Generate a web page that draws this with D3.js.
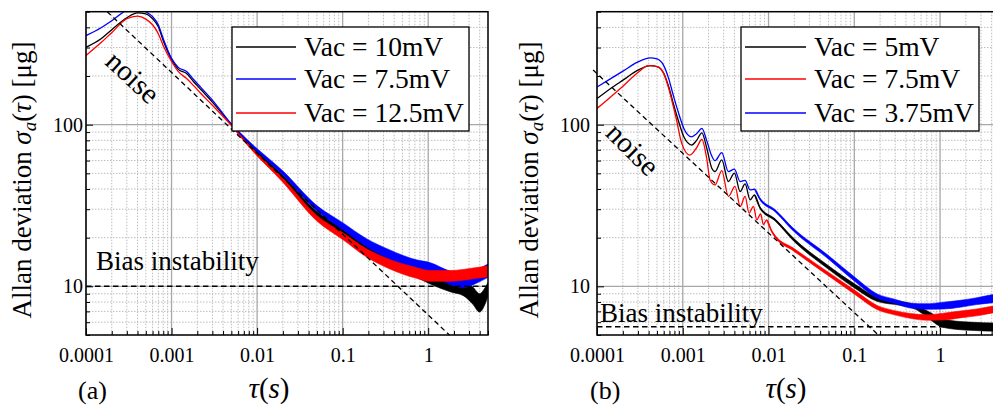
<!DOCTYPE html>
<html><head><meta charset="utf-8">
<script src="https://cdn.jsdelivr.net/npm/d3@7"></script>
<style>body{margin:0;background:#fff}svg{display:block}text{font-family:'Liberation Serif','Times New Roman',serif}</style>
</head><body><svg id="c" width="993" height="407"></svg>
<script>
// ---------- DATA ----------
const xDomain = [1e-4, 5];
const yDomain = [5, 500];
const xTicks = [1e-4, 1e-3, 1e-2, 0.1, 1];
const xTickLabels = ["0.0001", "0.001", "0.01", "0.1", "1"];
const yTicks = [10, 100];
const yTickLabels = ["10", "100"];

// Panel (a)
const legendA = ["Vac = 10mV", "Vac = 7.5mV", "Vac = 12.5mV"];
const tauA_10 = [1e-4,1.5e-4,2e-4,3e-4,4e-4,5e-4,6e-4,7e-4,8e-4,1e-3,1.2e-3,1.5e-3,1.8e-3,2.2e-3,3e-3,5e-3,8.2e-3,0.0202,0.0495,0.101,0.19,0.356,0.73,1.04,1.79,2.6,3.3,4.0,4.5,5.0];
const sigA_10 = [301,340,387,459,492,485,452,403,331,253,220,207,185,165,138,100,75,47,28,21.5,17,14.5,12.3,11.2,10.2,9.6,8.8,7.9,8.5,9.6];
const sprA_10 = [0,0,0,0,0,0,0,0,0,0,0,0,0,0,0,0,0.015,0.03,0.04,0.05,0.06,0.07,0.08,0.08,0.1,0.1,0.13,0.14,0.13,0.1];
const tauA_75 = [1e-4,1.5e-4,2e-4,3e-4,4e-4,5e-4,6e-4,7e-4,8e-4,1e-3,1.2e-3,1.5e-3,1.8e-3,2.2e-3,3e-3,5e-3,8.2e-3,0.0202,0.0495,0.101,0.19,0.356,0.73,1.04,1.79,2.6,3.66,5.0];
const sigA_75 = [356,398,440,510,525,500,466,415,340,257,226,213,191,170,142,101,77,50,30.5,23.5,18.6,15.7,13.5,13.0,11.3,10.8,11.5,12.5];
const sprA_75 = [0,0,0,0,0,0,0,0,0,0,0,0,0,0,0,0,0.015,0.03,0.04,0.05,0.06,0.07,0.08,0.08,0.1,0.1,0.1,0.1];
const tauA_125 = [1e-4,1.5e-4,2e-4,3e-4,4e-4,5e-4,6e-4,7e-4,8e-4,1e-3,1.2e-3,1.5e-3,1.8e-3,2.2e-3,3e-3,5e-3,8.2e-3,0.0202,0.0495,0.101,0.19,0.356,0.73,1.04,1.79,3.66,5.0];
const sigA_125 = [268,322,371,452,469,450,415,365,308,246,213,193,175,156,132,99,73,45.1,26.5,20.4,16.1,13.7,12.1,11.6,11.6,12.1,12.4];
const sprA_125 = [0,0,0,0,0,0,0,0,0,0,0,0,0,0,0,0,0.015,0.03,0.04,0.05,0.06,0.07,0.08,0.08,0.08,0.08,0.08];
const noiseLineA = [[1.77e-4, 500], [1.77, 5]];
const biasA = 10;

// Panel (b)
const legendB = ["Vac = 5mV", "Vac = 7.5mV", "Vac = 3.75mV"];
const tauB_5 = [1e-4,1.43e-4,2.05e-4,2.93e-4,4.19e-4,5.01e-4,6.0e-4,6.87e-4,7.86e-4,8.98e-4,1.03e-3,1.27e-3,1.45e-3,1.67e-3,1.9e-3,2.18e-3,2.38e-3,2.85e-3,3.4e-3,4.0e-3,4.67e-3,5.33e-3,6.1e-3,6.85e-3,8.0e-3,0.0119,0.0195,0.0479,0.1026,0.184,0.34,0.5,0.75,1.0,1.5,2.5,4.2,5.0];
const sigB_5 = [145,167,190,216,232,229,208,171,132,104,84.1,74.8,80,89.1,72,53.8,51.3,60.5,44.5,50.2,38.6,43,34.3,36.8,30.5,25.8,19.5,13.3,10.0,8.32,7.86,7.5,6.6,6.0,5.75,5.65,5.6,5.6];
const sprB_5 = [0,0,0,0,0,0,0,0,0,0,0,0,0,0,0,0,0,0,0,0,0,0,0,0,0.012,0.015,0.02,0.025,0.03,0.03,0.03,0.03,0.05,0.06,0.06,0.06,0.06,0.06];
const tauB_75 = [1e-4,1.43e-4,2.05e-4,2.93e-4,4.0e-4,5.01e-4,6.0e-4,6.87e-4,7.86e-4,8.3e-4,9.72e-4,1.21e-3,1.45e-3,1.67e-3,1.9e-3,2.08e-3,2.38e-3,2.85e-3,3.4e-3,4.07e-3,4.67e-3,5.33e-3,5.93e-3,6.67e-3,7.3e-3,8.1e-3,8.7e-3,9.5e-3,0.0109,0.0119,0.0195,0.0479,0.1026,0.184,0.287,0.449,0.703,1.1,1.72,2.69,4.2,5.0];
const sigB_75 = [126,148,175,208,232,229,207,167,126,112,76.6,64.9,72,81,62,45.5,42.4,52,36,41.5,31.2,36,28.4,31.2,25.8,28.1,24.1,25.8,21.9,20.4,16.9,12.1,9.15,7.4,6.89,6.56,6.42,6.5,6.7,6.9,7.2,7.3];
const sprB_75 = [0,0,0,0,0,0,0,0,0,0,0,0,0,0,0,0,0,0,0,0,0,0,0,0,0,0,0,0,0.012,0.015,0.02,0.025,0.03,0.03,0.03,0.035,0.04,0.05,0.05,0.05,0.05,0.05];
const tauB_375 = [1e-4,1.43e-4,2.05e-4,2.93e-4,4.19e-4,5.01e-4,6.0e-4,6.87e-4,7.86e-4,8.98e-4,1.03e-3,1.27e-3,1.45e-3,1.67e-3,1.9e-3,2.18e-3,2.38e-3,2.85e-3,3.4e-3,4.0e-3,4.67e-3,5.33e-3,6.1e-3,6.85e-3,7.98e-3,0.0119,0.0195,0.0479,0.1026,0.184,0.287,0.449,0.703,1.1,1.72,2.69,4.2,5.0];
const sigB_375 = [171,192,216,243,259,255,232,192,148,117,94.8,84.1,88,94.8,80,64,59.9,67.1,51.3,53.1,44.5,45.2,39.5,39.9,34.6,29.4,22.4,15.4,11.0,8.72,8.12,7.6,7.5,7.6,7.8,8.1,8.4,8.5];
const sprB_375 = [0,0,0,0,0,0,0,0,0,0,0,0,0,0,0,0,0,0,0,0,0,0,0,0,0.012,0.015,0.02,0.025,0.03,0.03,0.03,0.035,0.04,0.05,0.05,0.05,0.06,0.06];
const noiseLineB = [[0.9e-4, 218], [0.191, 5]];
const biasB = 5.62;

// ---------- DRAW ----------
const SERIF = "'Liberation Serif','Times New Roman',serif";
const svg = d3.select("#c");
const defs = svg.append("defs");
const zip = (t, s, p) => t.map((d, i) => ({t: d, v: s[i], s: p[i]}));

const panels = [
  {id: "a", x0: 86, x1: 488, yt: 11.7, yb: 335, labelGap: 3,
   series: [
     {name: legendA[0], color: "#000000", data: zip(tauA_10, sigA_10, sprA_10)},
     {name: legendA[1], color: "#0000ff", data: zip(tauA_75, sigA_75, sprA_75)},
     {name: legendA[2], color: "#ff0000", data: zip(tauA_125, sigA_125, sprA_125)}],
   drawOrder: [0, 1, 2],
   noise: noiseLineA, bias: biasA,
   legend: {x: 232, y: 27, w: 237, h: 104, lx0: 236, lx1: 296, tx: 304, rows: [47, 79, 113]},
   ylab: [31, 180], biasText: [96, 270], noiseText: [133, 77, 43],
   tag: ["(a)", 78], tauX: 269},
  {id: "b", x0: 597, x1: 1000, yt: 11.7, yb: 335, labelGap: 7,
   series: [
     {name: legendB[0], color: "#000000", data: zip(tauB_5, sigB_5, sprB_5)},
     {name: legendB[1], color: "#ff0000", data: zip(tauB_75, sigB_75, sprB_75)},
     {name: legendB[2], color: "#0000ff", data: zip(tauB_375, sigB_375, sprB_375)}],
   drawOrder: [0, 1, 2],
   noise: noiseLineB, bias: biasB,
   legend: {x: 741, y: 27, w: 238, h: 104, lx0: 745, lx1: 806, tx: 814, rows: [47, 79, 113]},
   ylab: [538, 180], biasText: [600, 322], noiseText: [633, 149, 45],
   tag: ["(b)", 590], tauX: 786}
];

function isMajor(t) { const l = Math.log10(t); return Math.abs(l - Math.round(l)) < 1e-9; }

panels.forEach(p => {
  const x = d3.scaleLog().domain(xDomain).range([p.x0, p.x1]);
  const y = d3.scaleLog().domain(yDomain).range([p.yb, p.yt]);
  const g = svg.append("g");
  const cid = "clip" + p.id;
  defs.append("clipPath").attr("id", cid).append("rect")
    .attr("x", p.x0).attr("y", p.yt).attr("width", p.x1 - p.x0).attr("height", p.yb - p.yt);

  // grid
  const grid = g.append("g");
  const xt = x.ticks(), yt = y.ticks();
  grid.selectAll(".xm").data(xt.filter(t => !isMajor(t))).join("line")
    .attr("x1", d => x(d)).attr("x2", d => x(d)).attr("y1", p.yt).attr("y2", p.yb)
    .attr("stroke", "#bdbdbd").attr("stroke-width", 1).attr("stroke-dasharray", "1.5,1.5");
  grid.selectAll(".ym").data(yt.filter(t => !isMajor(t))).join("line")
    .attr("y1", d => y(d)).attr("y2", d => y(d)).attr("x1", p.x0).attr("x2", p.x1)
    .attr("stroke", "#bdbdbd").attr("stroke-width", 1).attr("stroke-dasharray", "1.5,1.5");
  grid.selectAll(".xM").data(xTicks).join("line")
    .attr("x1", d => x(d)).attr("x2", d => x(d)).attr("y1", p.yt).attr("y2", p.yb)
    .attr("stroke", "#a8a8a8").attr("stroke-width", 1.3);
  grid.selectAll(".yM").data(yTicks).join("line")
    .attr("y1", d => y(d)).attr("y2", d => y(d)).attr("x1", p.x0).attr("x2", p.x1)
    .attr("stroke", "#a8a8a8").attr("stroke-width", 1.3);

  // series
  const sg = g.append("g").attr("clip-path", `url(#${cid})`);
  const line = d3.line().x(d => x(d.t)).y(d => y(d.v)).curve(d3.curveMonotoneX);
  const area = d3.area().x(d => x(d.t)).y0(d => y(d.v / (1 + d.s))).y1(d => y(d.v * (1 + d.s))).curve(d3.curveMonotoneX);
  p.drawOrder.forEach(i => {
    const s = p.series[i];
    const noisy = s.data.filter((d, k) => d.s > 0 || (s.data[k + 1] && s.data[k + 1].s > 0));
    sg.append("path").datum(noisy).attr("d", area).attr("fill", s.color).attr("stroke", s.color).attr("stroke-width", 0.6);
    sg.append("path").datum(s.data).attr("d", line).attr("fill", "none").attr("stroke", s.color).attr("stroke-width", 1.3);
  });

  // dashed reference lines
  g.append("line").attr("x1", x(p.noise[0][0])).attr("y1", y(p.noise[0][1]))
    .attr("x2", x(p.noise[1][0])).attr("y2", y(p.noise[1][1]))
    .attr("stroke", "#000").attr("stroke-width", 1.3).attr("stroke-dasharray", "5,3.5");
  g.append("line").attr("x1", x(xDomain[0])).attr("x2", x(xDomain[1])).attr("y1", y(p.bias)).attr("y2", y(p.bias))
    .attr("stroke", "#000").attr("stroke-width", 1.5).attr("stroke-dasharray", "5.5,3.5");

  // axes
  const xAxis = d3.axisBottom(x).tickValues(xTicks).tickFormat((d, i) => xTickLabels[i]).tickSize(-7).tickPadding(13);
  const xMinor = d3.axisBottom(x).tickValues(xt.filter(t => !isMajor(t))).tickFormat("").tickSize(-4);
  const yAxis = d3.axisLeft(y).tickValues(yTicks).tickFormat((d, i) => yTickLabels[i]).tickSize(-7).tickPadding(p.labelGap);
  const yMinor = d3.axisLeft(y).tickValues(yt.filter(t => !isMajor(t))).tickFormat("").tickSize(-4);
  [[xAxis, "b"], [xMinor, "b"], [yAxis, "l"], [yMinor, "l"]].forEach(([ax, side]) => {
    const a = g.append("g").attr("transform", side === "b" ? `translate(0,${p.yb})` : `translate(${p.x0},0)`).call(ax);
    a.attr("font-family", SERIF).style("font-family", SERIF);
    a.select(".domain").remove();
    a.selectAll("line").attr("stroke", "#000").attr("stroke-width", 1);
    a.selectAll("text").style("font-family", SERIF).attr("font-size", 20).attr("fill", "#000");
  });

  // frame
  g.append("rect").attr("x", p.x0).attr("y", p.yt).attr("width", p.x1 - p.x0).attr("height", p.yb - p.yt)
    .attr("fill", "none").attr("stroke", "#000").attr("stroke-width", 1.5);

  // legend
  const L = p.legend;
  g.append("rect").attr("x", L.x).attr("y", L.y).attr("width", L.w).attr("height", L.h)
    .attr("fill", "#fff").attr("stroke", "#000").attr("stroke-width", 1.3);
  p.series.forEach((s, i) => {
    g.append("line").attr("x1", L.lx0).attr("x2", L.lx1).attr("y1", L.rows[i]).attr("y2", L.rows[i])
      .attr("stroke", s.color).attr("stroke-width", 1.3);
    g.append("text").attr("x", L.tx).attr("y", L.rows[i] + 9).text(s.name)
      .attr("font-size", 27.5).attr("fill", "#000");
  });

  // text labels
  const yl = g.append("text").attr("transform", `translate(${p.ylab[0]},${p.ylab[1]}) rotate(-90)`)
    .attr("text-anchor", "middle").attr("font-size", 27).attr("fill", "#000");
  yl.append("tspan").text("Allan deviation ");
  yl.append("tspan").attr("font-style", "italic").text("σ");
  yl.append("tspan").attr("font-style", "italic").attr("font-size", 19).attr("dy", 5).text("a");
  yl.append("tspan").attr("dy", -5).text("(");
  yl.append("tspan").attr("font-style", "italic").text("τ");
  yl.append("tspan").text(") [μg]");

  g.append("text").attr("x", p.biasText[0]).attr("y", p.biasText[1]).text("Bias instability")
    .attr("font-size", 27).attr("fill", "#000");
  g.append("text").attr("transform", `translate(${p.noiseText[0]},${p.noiseText[1]}) rotate(${p.noiseText[2]})`)
    .attr("text-anchor", "middle").attr("dominant-baseline", "central").text("noise")
    .attr("font-size", 29).attr("fill", "#000");
  g.append("text").attr("x", p.tag[1]).attr("y", 399).text(p.tag[0])
    .attr("font-size", 26).attr("fill", "#000");
  const tx = g.append("text").attr("x", p.tauX).attr("y", 398).attr("text-anchor", "middle")
    .attr("font-size", 29).attr("fill", "#000");
  tx.append("tspan").attr("font-style", "italic").text("τ");
  tx.append("tspan").text("(");
  tx.append("tspan").attr("font-style", "italic").text("s");
  tx.append("tspan").text(")");
});
</script></body></html>
